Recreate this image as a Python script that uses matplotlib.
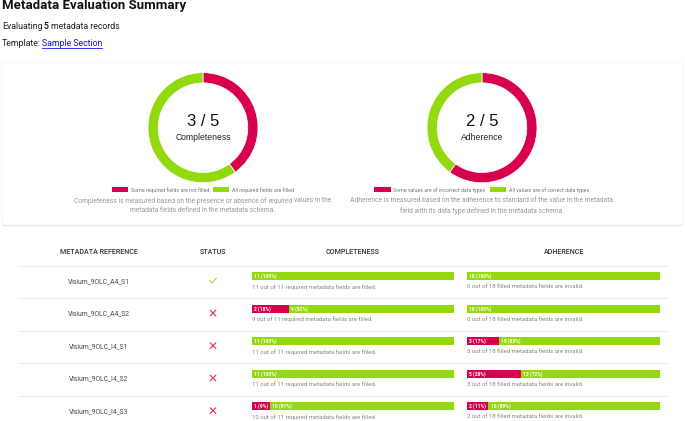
import matplotlib
matplotlib.use("Agg")
import matplotlib.pyplot as plt
from matplotlib.patches import FancyBboxPatch

plt.rcParams['font.family'] = ['Roboto', 'DejaVu Sans']

RED = '#d6004f'
GREEN = '#93d90f'
W, H = 685, 421

references = ['Visium_9OLC_A4_S1', 'Visium_9OLC_A4_S2', 'Visium_9OLC_I4_S1',
              'Visium_9OLC_I4_S2', 'Visium_9OLC_I4_S3']
status_ok = [True, False, False, False, False]
completeness_missing = [0, 2, 0, 0, 1]
completeness_filled = [11, 9, 11, 11, 10]
completeness_pct_missing = [0, 18, 0, 0, 9]
completeness_pct_filled = [100, 82, 100, 100, 91]
adherence_invalid = [0, 0, 3, 5, 2]
adherence_valid = [18, 18, 15, 13, 16]
adherence_pct_invalid = [0, 0, 17, 28, 11]
adherence_pct_valid = [100, 100, 83, 72, 89]
donut_completeness = [2, 3]
donut_adherence = [3, 2]

fig = plt.figure(figsize=(W / 100, H / 100), dpi=100, facecolor='white')
bg = fig.add_axes([0, 0, 1, 1])
bg.set_xlim(0, W)
bg.set_ylim(H, 0)
bg.axis('off')
renderer = fig.canvas.get_renderer()


def inset(x0, y0, x1, y1):
    return fig.add_axes([x0 / W, 1 - y1 / H, (x1 - x0) / W, (y1 - y0) / H])


# Header
bg.text(2, 5.8, 'Metadata Evaluation Summary', fontsize=9.5, fontweight='bold',
        color='#111111', va='center', ha='left')
bg.text(2, 26.7, 'Evaluating', fontsize=6.3, color='#222222', va='center')
bg.text(44, 26.7, '5', fontsize=6.3, fontweight='bold', color='#222222', va='center')
bg.text(51, 26.7, 'metadata records', fontsize=6.3, color='#222222', va='center')
bg.text(2, 43.7, 'Template:', fontsize=6.3, color='#222222', va='center')
bg.text(42, 43.7, 'Sample Section', fontsize=6.3, color='#1a0dee', va='center')
bg.plot([42, 102.5], [47.8, 47.8], color='#1a0dee', lw=0.6)

# Card
for off, col in [(1.5, '#f0f0f0'), (0.8, '#e2e2e2')]:
    bg.add_patch(FancyBboxPatch((2, 62 + off), 681, 163, boxstyle='round,pad=0,rounding_size=3',
                                fc=col, ec='none', zorder=1))
bg.add_patch(FancyBboxPatch((2, 62), 681, 163, boxstyle='round,pad=0,rounding_size=3',
                            fc='white', ec='#f4f4f4', lw=0.4, zorder=2))


def run_width(s, fontsize, style):
    """Advance width of a run, spaces at its ends included."""
    a = bg.text(0, 0, '|' + s + '|', fontsize=fontsize, style=style)
    b = bg.text(0, 0, '||', fontsize=fontsize, style=style)
    w = a.get_window_extent(renderer).width - b.get_window_extent(renderer).width
    a.remove()
    b.remove()
    return w


def centered_segments(cx, y, segments, fontsize, color):
    """Lay out (string, style) runs on one centred line."""
    widths = [run_width(s, fontsize, st) for s, st in segments]
    x = cx - sum(widths) / 2
    for (s, st), w in zip(segments, widths):
        lead = len(s) - len(s.lstrip(' '))
        shift = run_width(' ' * lead, fontsize, st) if lead else 0
        bg.text(x + shift, y, s.strip(' '), fontsize=fontsize, color=color, style=st,
                va='center', ha='left', zorder=5)
        x += w


def donut(values, cx, cy, big, small, leg, desc):
    r = 55
    ax = inset(cx - r, cy - r, cx + r, cy + r)
    ax.pie(values, colors=[RED, GREEN], startangle=90, counterclock=False, radius=1,
           wedgeprops=dict(width=0.185, edgecolor='white', linewidth=0.5))
    ax.set_xlim(-1, 1)
    ax.set_ylim(-1, 1)
    ax.set_aspect('equal')
    ax.axis('off')
    bg.text(cx, cy - 6, big, fontsize=12, color='#111111', ha='center', va='center',
            zorder=5, family='Liberation Sans')
    bg.text(cx, cy + 10.3, small, fontsize=6.2, color='#222222', ha='center', va='center',
            zorder=5, family='Liberation Sans')
    for (x0, x1, tx, s, c) in leg:
        bg.add_patch(plt.Rectangle((x0, 187.3), x1 - x0, 4.6, fc=c, ec='none', zorder=5))
        bg.text(tx, 189.7, s, fontsize=3.8, color='#777777', va='center', ha='left', zorder=5)
    for y, line in zip((201, 211), desc):
        centered_segments(cx, y, line, 4.88, '#9a9a9a')


donut(donut_completeness, 203, 127.7, '3 / 5', 'Completeness',
      [(112, 127.7, 131, 'Some required fields are not filled', RED),
       (213.5, 229, 232, 'All required fields are filled', GREEN)],
      [[('Completeness is measured based on the presence or absence of ', 'normal'),
        ('required', 'italic'), (' values in the', 'normal')],
       [('metadata fields defined in the metadata schema.', 'normal')]])
donut(donut_adherence, 482, 127.7, '2 / 5', 'Adherence',
      [(374.3, 390.7, 393.3, 'Some values are of incorrect data types', RED),
       (490.3, 506.3, 509.3, 'All values are of correct data types', GREEN)],
      [[('Adherence is measured based on the adherence to standard of the value in the metadata', 'normal')],
       [('field with its data type defined in the metadata schema.', 'normal')]])

# Table header
header_y = 252
for x, s in [(99, 'METADATA REFERENCE'), (213, 'STATUS'), (353, 'COMPLETENESS'), (564, 'ADHERENCE')]:
    bg.text(x, header_y, s, fontsize=5.15, color='#333333', ha='center', va='center', fontweight='medium')

row_lines = [265.5, 298, 330.5, 363, 395.5]
for y in row_lines:
    bg.plot([18, 667], [y, y], color='#ececec', lw=0.8)

row_h = 32.5
first_bar_top = 272.3


def stacked(ax_box, bad, good, pbad, pgood):
    ax = inset(*ax_box)
    ax.barh([0], [bad], color=RED, height=1, edgecolor='none')
    ax.barh([0], [good], left=[bad], color=GREEN, height=1, edgecolor='none')
    ax.set_xlim(0, bad + good)
    ax.set_ylim(-0.5, 0.5)
    ax.axis('off')
    if bad:
        ax.annotate(f'{bad} ({pbad}%)', (0, 0), xytext=(1.5, 0), textcoords='offset points',
                    fontsize=3.5, color='white', fontweight='bold', va='center', ha='left')
    ax.annotate(f'{good} ({pgood}%)', (bad, 0), xytext=(1.5, 0), textcoords='offset points',
                fontsize=3.5, color='white', fontweight='bold', va='center', ha='left')


for i, ref in enumerate(references):
    top = first_bar_top + i * row_h
    bg.text(99, top + 9.3, ref, fontsize=4.9, color='#444444', ha='center', va='center')
    cy = top + 8.3
    if status_ok[i]:
        bg.plot([209.8, 212, 216.5], [cy, cy + 2.2, cy - 2.4], color=GREEN, lw=0.7, zorder=5)
    else:
        bg.plot([210.3, 215.7], [cy - 2.7, cy + 2.7], color='#e8306f', lw=0.85, zorder=5)
        bg.plot([210.3, 215.7], [cy + 2.7, cy - 2.7], color='#e8306f', lw=0.85, zorder=5)
    stacked((252, top, 454, top + 8), completeness_missing[i], completeness_filled[i],
            completeness_pct_missing[i], completeness_pct_filled[i])
    stacked((467, top, 660, top + 8), adherence_invalid[i], adherence_valid[i],
            adherence_pct_invalid[i], adherence_pct_valid[i])
    total_c = completeness_missing[i] + completeness_filled[i]
    total_a = adherence_invalid[i] + adherence_valid[i]
    bg.text(252, top + 14.5, f'{completeness_filled[i]} out of {total_c} required metadata fields are filled.',
            fontsize=4.3, color='#888888', va='center', ha='left')
    bg.text(467, top + 14.5, f'{adherence_invalid[i]} out of {total_a} filled metadata fields are invalid.',
            fontsize=4.3, color='#888888', va='center', ha='left')

fig.savefig('out.png', dpi=100)
